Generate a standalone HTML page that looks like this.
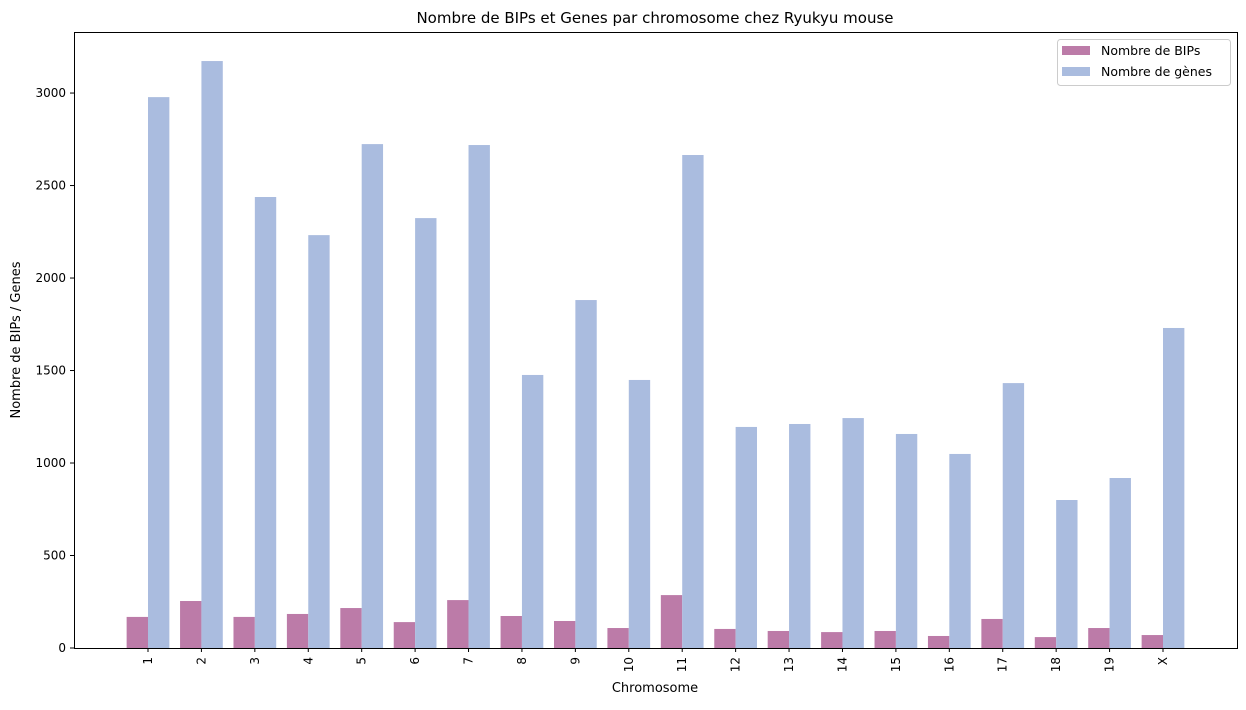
<!DOCTYPE html>
<html><head><meta charset="utf-8"><style>
body{margin:0;background:#fff;font-family:"Liberation Sans","DejaVu Sans",sans-serif;}
text{font-family:"DejaVu Sans","Liberation Sans",sans-serif;}
</style></head><body>
<svg id="chart" width="1246" height="705" xmlns="http://www.w3.org/2000/svg">
<rect width="1246" height="705" fill="#fff"/>
<text x="655" y="23" text-anchor="middle" font-size="15">Nombre de BIPs et Genes par chromosome chez Ryukyu mouse</text>
<g id="plot"></g>
<rect x="74.5" y="32.5" width="1163" height="616" fill="none" stroke="#000" stroke-width="1"/>
<text x="655" y="692" text-anchor="middle" font-size="13">Chromosome</text>
<text transform="translate(20,340) rotate(-90)" text-anchor="middle" font-size="13">Nombre de BIPs / Genes</text>
<g>
<rect x="1057.5" y="39.5" width="173" height="46" rx="3" fill="#fff" stroke="#ccc"/>
<rect x="1062" y="46" width="28" height="9" fill="#bc7ba8"/>
<text x="1101" y="55" font-size="12.5">Nombre de BIPs</text>
<rect x="1062" y="67" width="28" height="9" fill="#aabcdf"/>
<text x="1101" y="76" font-size="12.5">Nombre de gènes</text>
</g>
</svg>
<script>
const categories=["1","2","3","4","5","6","7","8","9","10","11","12","13","14","15","16","17","18","19","X"];
const bips=[168,254,168,184,216,140,259,173,146,108,286,103,92,86,92,65,157,59,108,70];
const genes=[2978,3173,2438,2232,2724,2324,2719,1476,1881,1449,2665,1195,1211,1243,1157,1049,1432,800,919,1730];
const yTicks=[0,500,1000,1500,2000,2500,3000];
const NS="http://www.w3.org/2000/svg";
const g=document.getElementById("plot");
const y0=648, yMax=3330, ph=616;
function y(v){return y0-v/yMax*ph;}
const step=(1163-148)/19;
function x(i){return 148+i*step;}
const bw=step*0.4;
function mk(t,a){const e=document.createElementNS(NS,t);for(const k in a)e.setAttribute(k,a[k]);g.appendChild(e);return e;}
categories.forEach((c,i)=>{
 let r=mk("rect",{x:x(i)-bw,y:y(bips[i]),width:bw,height:y0-y(bips[i]),fill:"#bc7ba8"});
 
 
 r=mk("rect",{x:x(i),y:y(genes[i]),width:bw,height:y0-y(genes[i]),fill:"#aabcdf"});
 
 
 mk("line",{x1:x(i),x2:x(i),y1:648,y2:652,stroke:"#000"});
 const t=mk("text",{transform:`translate(${x(i)+4},657) rotate(-90)`,"text-anchor":"end","font-size":"12"});
 t.textContent=c;
 
 
});
yTicks.forEach(v=>{
 mk("line",{x1:70,x2:74,y1:y(v),y2:y(v),stroke:"#000"});
 const t=mk("text",{x:66,y:y(v)+4,"text-anchor":"end","font-size":"12"});
 t.textContent=v;
 
 
});
</script>
</body></html>
